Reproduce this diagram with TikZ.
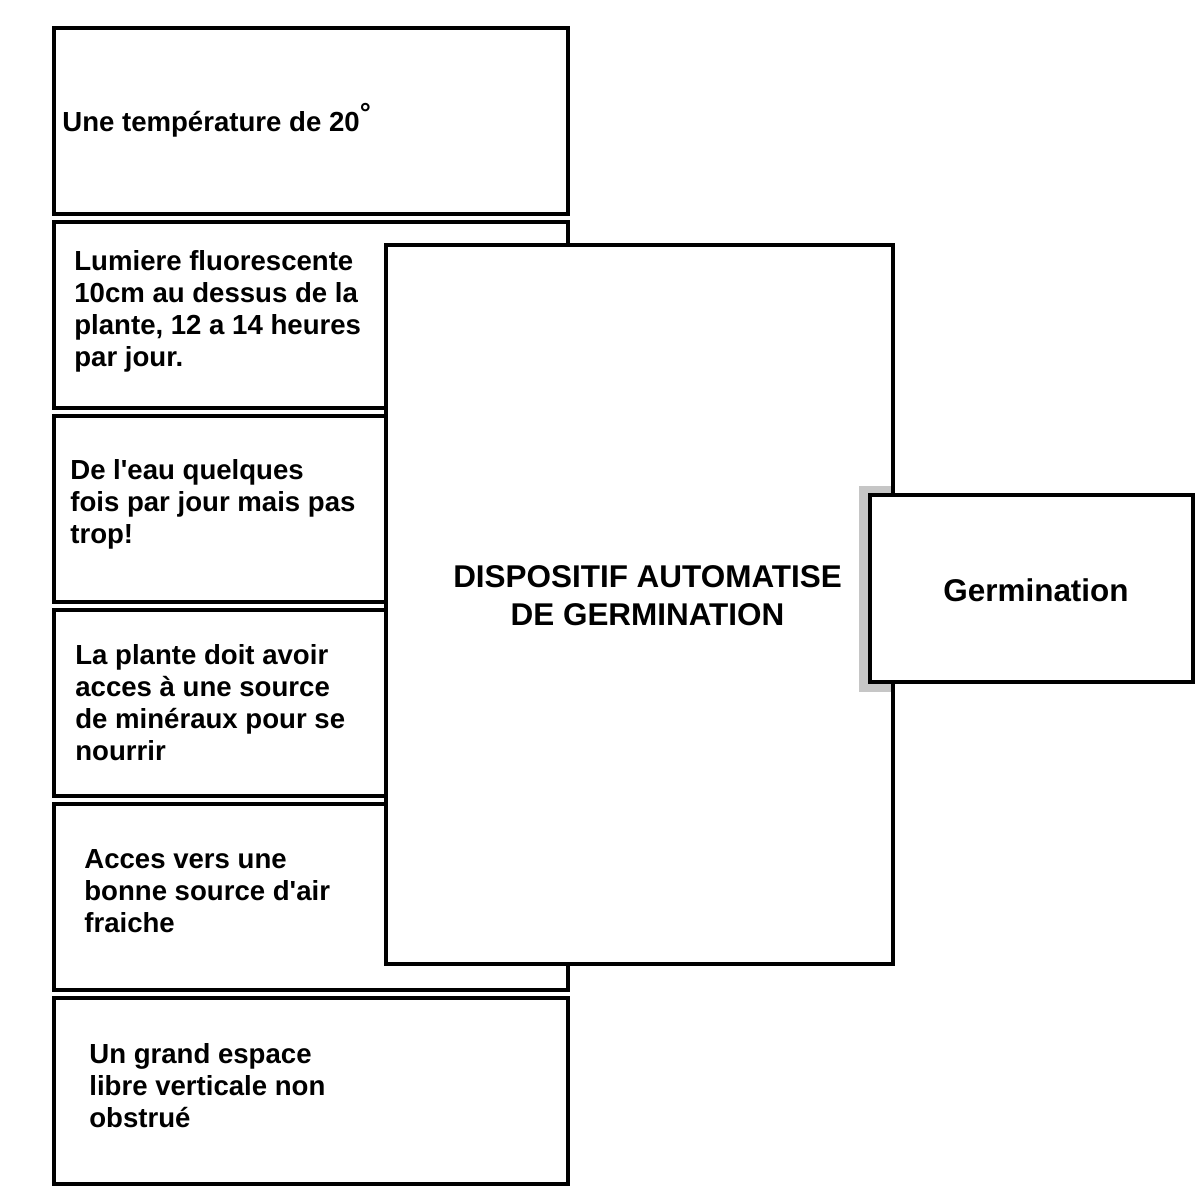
\documentclass[tikz,border=0pt]{standalone}
\usepackage{fontspec}
\setmainfont{Liberation Sans}
\usetikzlibrary{positioning}

\begin{document}
\begin{tikzpicture}[x=0.02cm, y=-0.02cm,
    leftbox/.style={draw, line width=0.08cm, fill=white, minimum width=10.28cm, minimum height=3.72cm, inner sep=0},
    txt/.style={anchor=west, align=left, inner sep=0, font=\bfseries\fontsize{15.7}{18.2}\selectfont},
    bigtxt/.style={align=center, inner sep=0, font=\bfseries\fontsize{17.9}{21.6}\selectfont}]
        \useasboundingbox (0,0) rectangle (1200,1200);
        % Left boxes
        \foreach \i in {1,...,6} {
            \node (b\i) at (311,{121+194*(\i-1)}) [leftbox] {};
        }
        % Main box
        \node (disp) at (639.5,604.5) [draw, line width=0.08cm, fill=white, minimum width=10.14cm, minimum height=14.38cm, inner sep=0] {};
        % Shadow and result box
        \fill[gray!45] (859,486) rectangle (891,692);
        \node (germ) at (1031.5,588.5) [draw, line width=0.08cm, fill=white, minimum width=6.46cm, minimum height=3.74cm, inner sep=0] {};
        % Texts
        \node (t1) at (62,120) [txt] {Une température de 20\raisebox{0.32em}{\textdegree}};
        \node (t2) at (74,311) [txt] {Lumiere fluorescente\\10cm au dessus de la\\plante, 12 a 14 heures\\par jour.};
        \node (t3) at (70,504) [txt] {De l\textquotesingle eau quelques\\fois par jour mais pas\\trop!};
        \node (t4) at (75,703) [txt] {La plante doit avoir\\acces à une source\\de minéraux pour se\\nourrir};
        \node (t5) at (84,891) [txt] {Acces vers une\\bonne source d\textquotesingle air\\fraiche};
        \node (t6) at (89,1086) [txt] {Un grand espace\\libre verticale non\\obstrué};
        \node (td) at (647.5,596) [bigtxt] {DISPOSITIF AUTOMATISE\\DE GERMINATION};
        \node (tg) at (1036,590) [bigtxt] {Germination};
    \end{tikzpicture}
\end{document}
